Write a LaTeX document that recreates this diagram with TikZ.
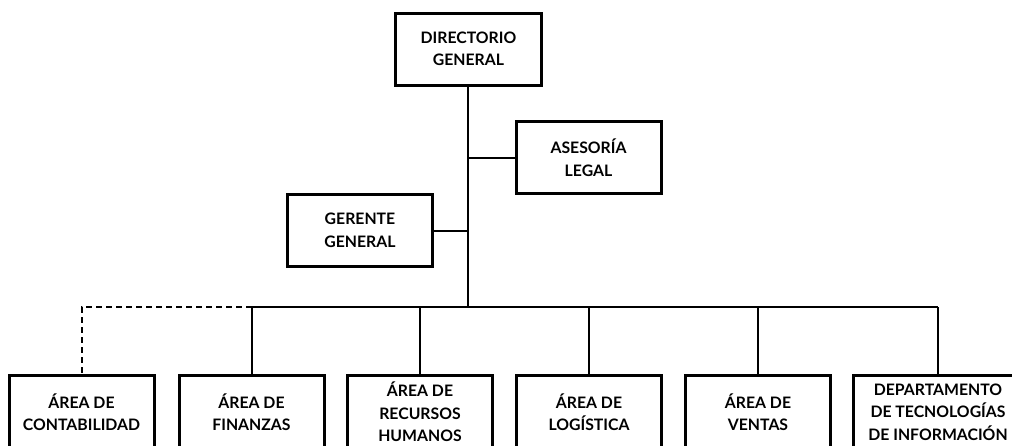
\documentclass[tikz,border=0pt]{standalone}
\usepackage{fontspec}
\setmainfont{Lato}
\begin{document}
\begin{tikzpicture}[x=1pt,y=-1pt,
  unit/.style={draw=black, line width=3pt, fill=white, align=center,
    font=\bfseries\fontsize{15.8}{22.5}\selectfont, inner sep=0pt},
  topunit/.style={unit, minimum width=146pt, minimum height=72pt},
  staffunit/.style={unit, minimum width=145pt, minimum height=72pt},
  areaunit/.style={unit, minimum width=145pt, minimum height=74pt},
  link/.style={line width=2pt},
  dottedlink/.style={line width=2pt, dash pattern=on 6pt off 4pt}]
\useasboundingbox (0,0) rectangle (1012,445);

% head of the organisation and its staff units
\node[topunit] (dir) at (468.5,49) {DIRECTORIO\\GENERAL};
\node[staffunit] (leg) at (588.5,157.5) {ASESORÍA\\LEGAL};
\node[staffunit] (ger) at (360,230.5) {GERENTE\\GENERAL};

% operating areas
\node[areaunit] (con) at (81.5,412) {ÁREA DE\\CONTABILIDAD};
\node[areaunit] (fin) at (251.5,412) {ÁREA DE\\FINANZAS};
\node[areaunit] (rrh) at (420,412) {ÁREA DE\\RECURSOS\\HUMANOS};
\node[areaunit] (log) at (589,412) {ÁREA DE\\LOGÍSTICA};
\node[areaunit] (ven) at (758,412) {ÁREA DE\\VENTAS};
\node[areaunit, minimum width=170pt] (tic) at (938,412) {DEPARTAMENTO\\DE TECNOLOGÍAS\\DE INFORMACIÓN};

% main trunk and bus
\coordinate (bus) at (468,307);
\coordinate (busfin) at (251.5,307);
\coordinate (buscon) at (81.5,307);
\coordinate (bustic) at (938,307);

\draw[link] (dir.south -| bus) -- (bus);
\draw[link] (leg.west) -- (leg.west -| bus);
\draw[link] (ger.east) -- (ger.east -| bus);
\draw[link] (busfin) -- (bustic);
\draw[link] (busfin) -- (fin.north);
\draw[link] (rrh.north |- bus) -- (rrh.north);
\draw[link] (log.north |- bus) -- (log.north);
\draw[link] (ven.north |- bus) -- (ven.north);
\draw[link] (bustic) -- (tic.north);
\draw[dottedlink] (busfin) -- (buscon) -- (con.north);
\end{tikzpicture}
\end{document}
